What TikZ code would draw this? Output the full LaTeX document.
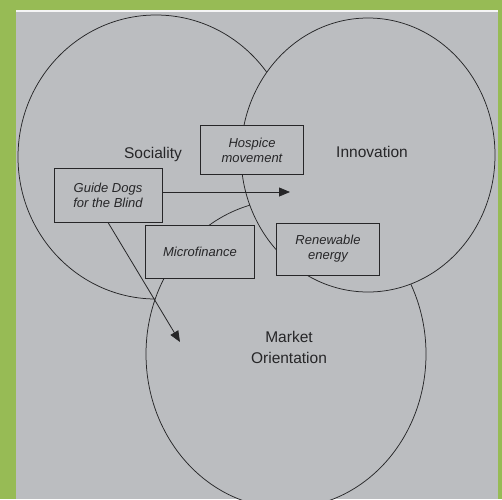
\documentclass[tikz,border=0pt]{standalone}
\usepackage{fontspec}
\setmainfont{Liberation Sans}
\usepackage{xcolor}
\usetikzlibrary{arrows.meta, positioning}
\definecolor{frame}{HTML}{97BB55}
\definecolor{paper}{HTML}{BBBDC0}
\definecolor{ink}{HTML}{262628}

\begin{document}
\begin{tikzpicture}[
    x=1pt, y=-1pt,
    ring/.style={draw=ink, line width=0.75pt, fill=paper},
    box/.style={rectangle, draw=ink, line width=0.8pt, fill=paper, inner sep=0pt, align=center, text=ink, font=\fontsize{13}{15}\selectfont\itshape},
    label/.style={text=ink, font=\fontsize{15.5}{21}\selectfont, align=center},
    arrow/.style={-{Triangle[length=11pt, width=9pt]}, line width=0.8pt, draw=ink}
]
\useasboundingbox (0,0) rectangle (502,499);
\fill[frame] (0,0) rectangle (502,499);
\fill[paper] (16,11) rectangle (498,499);
\fill[white!85!paper] (16,10) rectangle (498,11.5);

\draw[ring] (156,157) ellipse [x radius=138pt, y radius=142pt];
\draw[ring] (286,354) ellipse [x radius=140pt, y radius=154pt];
\draw[ring] (368,155) ellipse [x radius=127pt, y radius=137pt];

\node[label, anchor=base] (sociality) at (153,158) {Sociality};
\node[label, anchor=base] (innovation) at (372,157) {Innovation};
\node[label] (market) at (289,347) {Market\\Orientation};

\node[box, minimum width=103pt, minimum height=49pt] (hospice) at (252,150) {Hospice\\movement};
\node[box, minimum width=108pt, minimum height=54pt] (guide) at (108,195) {Guide Dogs\\for the Blind};
\node[box, minimum width=109pt, minimum height=53pt] (micro) at (200,252) {Microfinance};
\node[box, minimum width=103pt, minimum height=52pt] (renew) at (328,249) {Renewable\\energy};

\coordinate (tipA) at (290,192);
\coordinate (tipB) at (180,342);
\draw[arrow] (guide.east |- tipA) -- (tipA);
\draw[arrow] (guide.south) -- (tipB);
\end{tikzpicture}
\end{document}
